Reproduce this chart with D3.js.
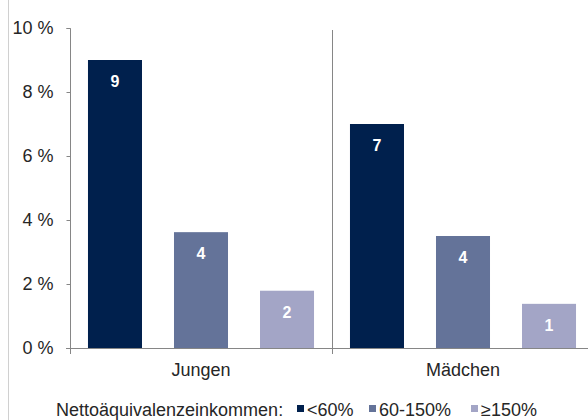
<!DOCTYPE html>
<html><head><meta charset="utf-8">
<script src="https://cdn.jsdelivr.net/npm/d3@7"></script>
<style>
html,body{margin:0;padding:0;background:#fff;}
svg{display:block;font-family:"Liberation Sans",Arial,sans-serif;}
</style></head>
<body><svg id="chart" width="588" height="420"></svg>
<script>
const groups = ["Jungen", "Mädchen"];
const seriesNames = ["<60%", "60-150%", "≥150%"];
const seriesColors = ["#00204d", "#647399", "#a3a5c6"];
const valuesJungen = [9.0, 3.62, 1.79];
const valuesMaedchen = [7.0, 3.5, 1.38];
const barLabelsJungen = ["9", "4", "2"];
const barLabelsMaedchen = ["7", "4", "1"];
const yTicks = [0, 2, 4, 6, 8, 10];
const legendTitle = "Nettoäquivalenzeinkommen:";

const data = [
  {group: groups[0], values: valuesJungen, labels: barLabelsJungen},
  {group: groups[1], values: valuesMaedchen, labels: barLabelsMaedchen}
];

const svg = d3.select("#chart");
const mLeft = 70, mRight = 594, mTop = 28, mBottom = 348;

// left page border line
svg.append("line").attr("x1", 8.5).attr("x2", 8.5).attr("y1", 0).attr("y2", 420)
  .attr("stroke", "#d0d0d0").attr("stroke-width", 1);

const y = d3.scaleLinear().domain([0, 10]).range([mBottom, mTop]);
const x0 = d3.scaleBand().domain(groups).range([mLeft, mRight]).paddingInner(0).paddingOuter(0);
const x1 = d3.scaleBand().domain(d3.range(seriesNames.length)).range([0, x0.bandwidth()])
  .paddingInner(0.372).paddingOuter(0.209);

const axisColor = "#868686";
const textColor = "#262626";

// Y axis
const yAxis = d3.axisLeft(y).tickValues(yTicks).tickSize(4).tickPadding(13)
  .tickFormat(d => d + " %");
const gy = svg.append("g").attr("transform", `translate(${mLeft + 0.5},0)`).call(yAxis);
gy.select(".domain").attr("stroke", axisColor).attr("d", `M-4,${mTop + 0.5}H0V${mBottom + 6}`);
gy.selectAll(".tick line").attr("stroke", axisColor);
gy.selectAll(".tick text").attr("fill", textColor).style("font-size", "18px")
  .attr("font-family", "Liberation Sans, Arial, sans-serif");

// X axis baseline
svg.append("line").attr("x1", mLeft - 4).attr("x2", 588).attr("y1", mBottom + 0.5).attr("y2", mBottom + 0.5)
  .attr("stroke", axisColor).attr("stroke-width", 1);

// group dividers
groups.slice(1).forEach(g => {
  const xx = Math.round(x0(g)) + 0.5;
  svg.append("line").attr("x1", xx).attr("x2", xx).attr("y1", 30).attr("y2", mBottom + 6)
    .attr("stroke", axisColor).attr("stroke-width", 1);
});

// group labels
svg.append("g").selectAll("text").data(groups).join("text")
  .attr("x", d => x0(d) + x0.bandwidth() / 2)
  .attr("y", 376)
  .attr("text-anchor", "middle")
  .attr("fill", textColor)
  .style("font-size", "18px")
  .text(d => d);

// bars
const gg = svg.append("g").selectAll("g").data(data).join("g")
  .attr("transform", d => `translate(${x0(d.group)},0)`);

gg.selectAll("rect").data(d => d.values.map((v, i) => ({v, i}))).join("rect")
  .attr("x", d => x1(d.i))
  .attr("width", x1.bandwidth())
  .attr("y", d => y(d.v))
  .attr("height", d => mBottom - y(d.v))
  .attr("fill", d => seriesColors[d.i]);

gg.selectAll("text").data(d => d.values.map((v, i) => ({v, i, l: d.labels[i]}))).join("text")
  .attr("x", d => x1(d.i) + x1.bandwidth() / 2)
  .attr("y", d => y(d.v) + 27)
  .attr("text-anchor", "middle")
  .attr("fill", "#ffffff")
  .style("font-size", "16px")
  .style("font-weight", "bold")
  .text(d => d.l);

// legend
const lg = svg.append("g");
lg.append("text").attr("x", 56).attr("y", 416).attr("fill", textColor)
  .style("font-size", "18px").text(legendTitle);
const itemX = [297, 369, 471];
seriesNames.forEach((s, i) => {
  lg.append("rect").attr("x", itemX[i]).attr("y", 405).attr("width", 7).attr("height", 7)
    .attr("fill", seriesColors[i]);
  lg.append("text").attr("x", itemX[i] + 10).attr("y", 416).attr("fill", textColor)
    .style("font-size", "18px").text(s);
});
</script>
</body></html>
